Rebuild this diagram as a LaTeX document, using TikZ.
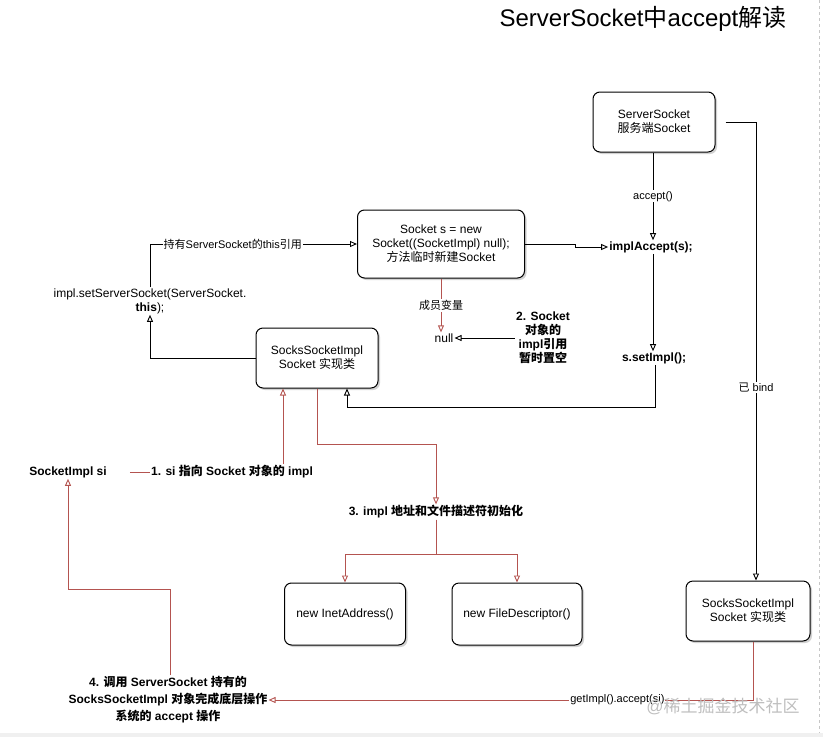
\documentclass[tikz,border=0pt]{standalone}
\usepackage{fontspec}
\setmainfont{Liberation Sans}
\newfontfamily\cjk{Noto Sans CJK SC}
\usetikzlibrary{arrows.meta,shadows}
\newcommand\zh[1]{{\cjk #1}}
\definecolor{redline}{RGB}{180,84,80}
\definecolor{wmark}{RGB}{190,190,190}
\begin{document}
\begin{tikzpicture}[x=1pt,y=-1pt,
  box/.style={draw=black, line width=1pt, rounded corners=7pt, fill=white, align=center,
    font=\fontsize{12}{14}\selectfont,
    drop shadow={shadow xshift=2pt, shadow yshift=-2pt, fill=black!35}},
  lbl/.style={align=center, font=\fontsize{12}{14}\selectfont, inner sep=1pt},
  blbl/.style={align=center, font=\fontsize{12}{14}\selectfont\bfseries, inner sep=1pt},
  elbl/.style={align=center, font=\fontsize{11}{13}\selectfont, inner sep=1pt, fill=white},
  blk/.style={draw=black, line width=0.9pt, -{Triangle[open,length=7pt,width=6pt]}},
  redarr/.style={draw=redline, line width=0.9pt, -{Triangle[open,length=7pt,width=6pt]}},
  redplain/.style={draw=redline, line width=0.9pt}
]
\useasboundingbox (0,0) rectangle (823,737);
\fill[gray!12] (0,733) rectangle (823,737);
\draw[gray!45, dashed, line width=0.6pt] (819,0) -- (819,733);

% title
\node[font=\fontsize{24}{28}\selectfont, inner sep=0pt] (title) at (643,19) {ServerSocket\zh{中}accept\zh{解读}};

% nodes
\node[box, minimum width=122pt, minimum height=60pt] (ss) at (654,122) {ServerSocket\\\zh{服务端}Socket};
\node[blbl] (ia) at (651,247) {implAccept(s);};
\node[blbl] (si2) at (654,358) {s.setImpl();};
\node[box, minimum width=167pt, minimum height=68pt] (sock) at (441,244) {Socket s = new\\Socket((SocketImpl) null);\\\zh{方法临时新建}Socket};
\node[lbl] (null) at (444,338) {null};
\node[blbl] (n2) at (543,338) {2. Socket\\\zh{对象的}\\impl\zh{引用}\\\zh{暂时置空}};
\node[box, minimum width=122pt, minimum height=60pt] (ssi1) at (317,358) {SocksSocketImpl\\Socket \zh{实现类}};
\node[lbl] (setss) at (150,301) {impl.setServerSocket(ServerSocket.\\\textbf{this});};
\node[blbl] (si) at (68,472) {SocketImpl si};
\node[blbl] (n1) at (232,472) {1. si \zh{指向} Socket \zh{对象的} impl};
\node[blbl] (n3) at (436,512) {3. impl \zh{地址和文件描述符初始化}};
\node[box, minimum width=121pt, minimum height=62pt] (ina) at (345,614) {new InetAddress()};
\node[box, minimum width=130pt, minimum height=62pt] (fd) at (517,614) {new FileDescriptor()};
\node[box, minimum width=124pt, minimum height=60pt] (ssi2) at (748,611) {SocksSocketImpl\\Socket \zh{实现类}};
\node[align=center, font=\fontsize{12}{17}\selectfont\bfseries, inner sep=1pt] (n4) at (168,700) {4. \zh{调用} ServerSocket \zh{持有的}\\SocksSocketImpl \zh{对象完成底层操作}\\\zh{系统的} accept \zh{操作}};

% connectors
\draw[blk] (ss.south -| 653,0) -- node[elbl] {accept()} (ia.north -| 653,0);
\draw[blk] (ia.south -| 653,0) -- (si2.north -| 653,0);
\draw[blk] (si2.south -| 655,0) -- (655,407) -| ([xshift=30pt]ssi1.south);
\draw[blk] (sock.east) -- ++(50,0) |- (ia.west);
\draw[redarr] (sock.south) -- node[elbl] {\zh{成员变量}} (sock.south |- null.north);
\draw[blk] (n2.west) -- (null.east);
\draw[blk] (ssi1.west) -| (setss.south);
\draw[blk] (setss.north) |- node[pos=0.7, elbl] {\zh{持有}ServerSocket\zh{的}this\zh{引用}} (sock.west);
\draw[redplain] ([xshift=22pt]si.east) -- (n1.west);
\draw[redarr] (n1.north -| 283,0) -- (ssi1.south -| 283,0);
\draw[redarr] (ssi1.south) -- ++(0,56) -| (n3.north);
\draw[redarr] (n3.south) -- ++(0,35) -| (ina.north);
\draw[redarr] (n3.south) -- ++(0,35) -| (fd.north);
\draw[blk] ([xshift=10pt]ss.east) -| node[pos=0.79, elbl] {\zh{已} bind} ([xshift=8pt]ssi2.north);
\draw[redarr] ([xshift=5pt]ssi2.south) |- node[pos=0.64, elbl] {getImpl().accept(si)} (n4.east);
\draw[redarr] ([xshift=2pt]n4.north) -- ++(0,-86) -| (si.south);

% watermark
\node[text=wmark, font=\fontsize{17}{20}\selectfont, inner sep=0pt] (wm) at (723,706) {@\zh{稀土掘金技术社区}};
\end{tikzpicture}
\end{document}
